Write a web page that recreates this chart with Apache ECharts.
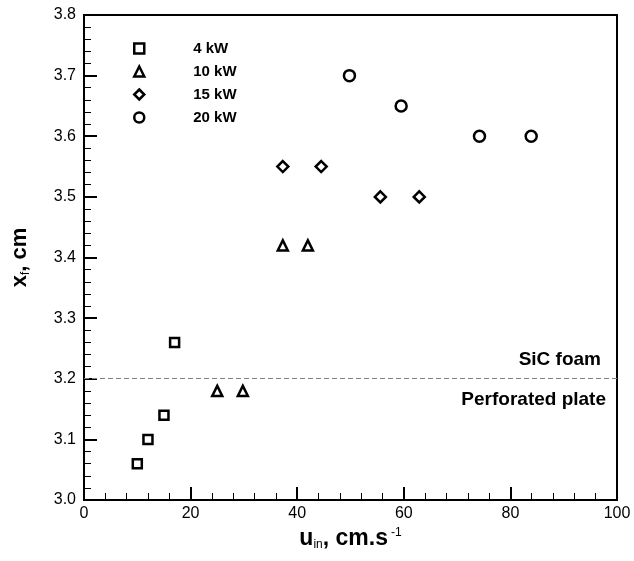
<!DOCTYPE html>
<html>
<head>
<meta charset="utf-8">
<script src="https://cdn.jsdelivr.net/npm/echarts@6/dist/echarts.min.js"></script>
<style>
html, body { margin: 0; padding: 0; background: #fff; }
#main { width: 634px; height: 561px; }
</style>
</head>
<body>
<div id="main"></div>
<script>
var chart = echarts.init(document.getElementById('main'));

// data: [u_in (cm/s), x_f (cm)]
var names = ['4 kW', '10 kW', '15 kW', '20 kW'];
var symbols = ['rect', 'triangle', 'diamond', 'circle'];
var sizes = [9, 10, 11, 11];
var p4 = [[10, 3.06], [12, 3.10], [15, 3.14], [17, 3.26]];
var p10 = [[25, 3.18], [29.8, 3.18], [37.3, 3.42], [42, 3.42]];
var p15 = [[37.3, 3.55], [44.5, 3.55], [55.6, 3.50], [62.9, 3.50]];
var p20 = [[49.8, 3.70], [59.5, 3.65], [74.2, 3.60], [83.9, 3.60]];
var groups = [p4, p10, p15, p20];
var boundary = 3.2;

var font = 'Liberation Sans, Arial, sans-serif';

var series = groups.map(function (d, i) {
  return {
    name: names[i],
    type: 'scatter',
    data: d,
    symbol: symbols[i],
    symbolSize: sizes[i],
    itemStyle: { color: '#fff', borderColor: '#000', borderWidth: 2.5, opacity: 1 },
    emphasis: { disabled: true }
  };
});

// dashed boundary line between the two sections
series.push({
  type: 'line',
  data: [],
  silent: true,
  markLine: {
    symbol: 'none',
    silent: true,
    data: [
      {
        yAxis: boundary,
        lineStyle: { color: '#808080', type: [5, 3], width: 1.2 },
        label: {
          show: true, position: 'insideEndTop', formatter: 'SiC foam',
          color: '#000', fontFamily: font, fontWeight: 'bold', fontSize: 19,
          distance: [16, 9]
        }
      },
      {
        yAxis: boundary,
        lineStyle: { color: 'transparent', width: 0 },
        label: {
          show: true, position: 'insideEndBottom', formatter: 'Perforated plate',
          color: '#000', fontFamily: font, fontWeight: 'bold', fontSize: 19,
          distance: [11, 12]
        }
      }
    ]
  }
});

var option = {
  backgroundColor: '#fff',
  animation: false,
  grid: {
    left: 84, right: 17, top: 15, bottom: 61,
    show: true, borderColor: '#000', borderWidth: 2, backgroundColor: 'transparent'
  },
  legend: {
    orient: 'vertical',
    left: 128, top: 36,
    itemGap: 8,
    itemWidth: 10, itemHeight: 10,
    data: names,
    itemStyle: { color: '#fff', borderColor: '#000', borderWidth: 2.5 },
    textStyle: {
      fontFamily: font, fontWeight: 'bold', fontSize: 15, color: '#000',
      padding: [0, 0, 0, 44]
    }
  },
  xAxis: {
    type: 'value',
    min: 0, max: 100, interval: 20,
    name: '{b|u}{sub|in}{b|, cm.s}{sup|-1}',
    nameLocation: 'middle',
    nameGap: 26,
    nameTextStyle: {
      rich: {
        b: { fontFamily: font, fontWeight: 'bold', fontSize: 23, color: '#000' },
        sub: { fontFamily: font, fontSize: 12, color: '#000', verticalAlign: 'bottom', padding: [12, 0, 0, 0] },
        sup: { fontFamily: font, fontSize: 12, color: '#000', verticalAlign: 'top', padding: [0, 0, 12, 3] }
      }
    },
    axisLine: { onZero: false, lineStyle: { color: '#000', width: 2 } },
    axisTick: { inside: true, length: 13, lineStyle: { color: '#000', width: 2 } },
    minorTick: { show: true, splitNumber: 5, length: 7, lineStyle: { color: '#000', width: 1 } },
    splitLine: { show: false },
    axisLabel: { fontFamily: font, fontSize: 16, color: '#000', margin: 6 }
  },
  yAxis: {
    type: 'value',
    min: 3.0, max: 3.8, interval: 0.1,
    name: '{b|x}{sub|f}{b|, cm}',
    nameLocation: 'middle',
    nameGap: 52,
    nameTextStyle: {
      rich: {
        b: { fontFamily: font, fontWeight: 'bold', fontSize: 22, color: '#000' },
        sub: { fontFamily: font, fontSize: 12, color: '#000', verticalAlign: 'bottom', padding: [12, 0, 0, 0] }
      }
    },
    axisLine: { onZero: false, lineStyle: { color: '#000', width: 2 } },
    axisTick: { inside: true, length: 13, lineStyle: { color: '#000', width: 2 } },
    minorTick: { show: true, splitNumber: 5, length: 7, lineStyle: { color: '#000', width: 1 } },
    splitLine: { show: false },
    axisLabel: {
      fontFamily: font, fontSize: 16, color: '#000', margin: 8,
      formatter: function (v) { return v.toFixed(1); }
    }
  },
  series: series
};

chart.setOption(option);
</script>
</body>
</html>
